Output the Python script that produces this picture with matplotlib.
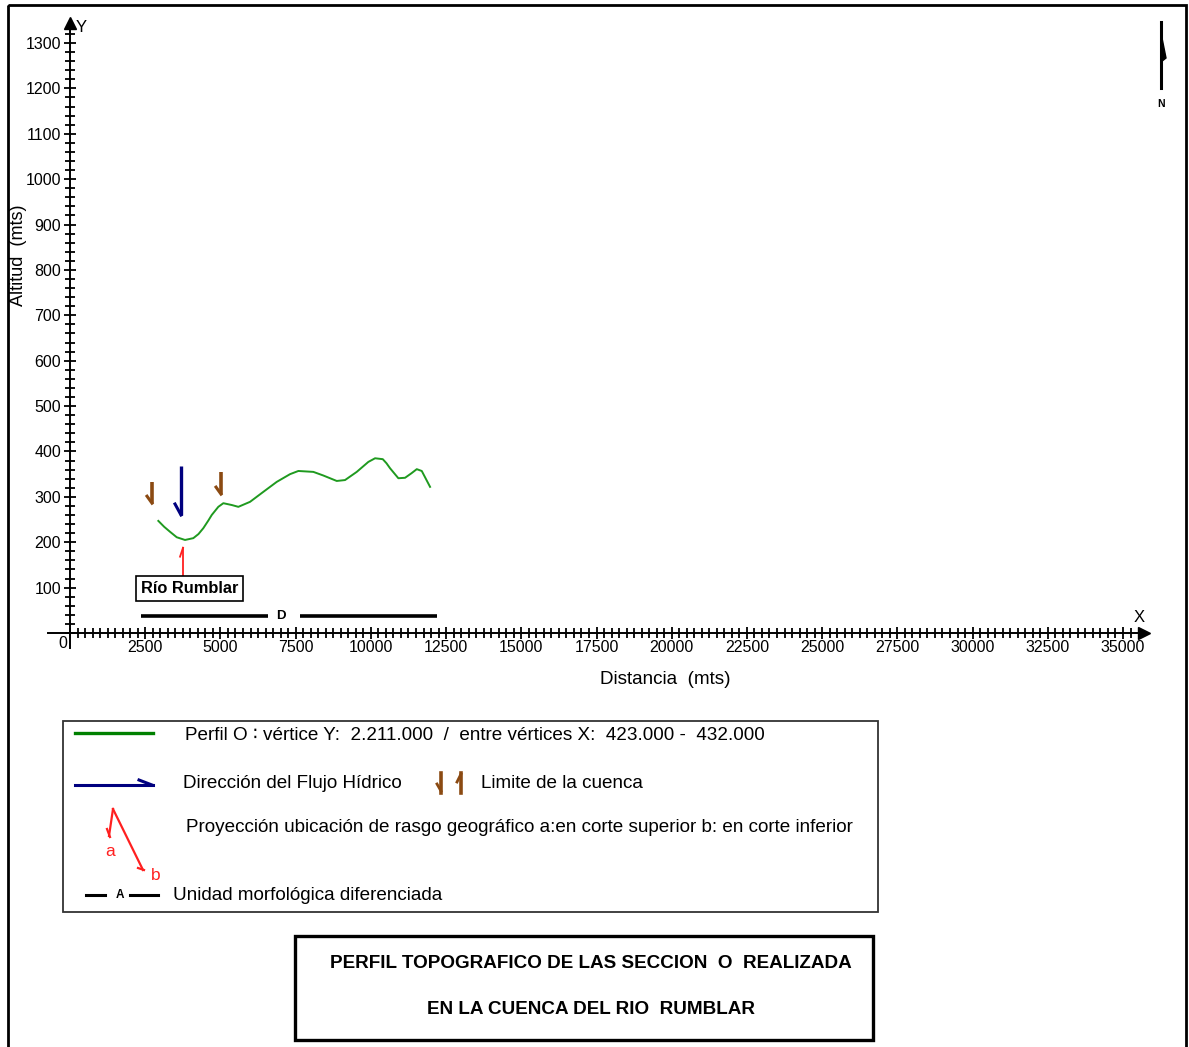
import matplotlib
matplotlib.use("Agg")
import matplotlib.pyplot as plt
import matplotlib.transforms as mtransforms
from matplotlib import font_manager
from matplotlib.patches import Rectangle, Polygon
import numpy as np

# ---------------------------------------------------------------- data
# Perfil O: distancia (m) / altitud (m)
dist_m = [2936, 3130, 3325, 3547, 3823, 4099, 4270, 4432, 4600, 4711, 4930,
          5097, 5376, 5595, 5984, 6426, 6872, 7314, 7590, 8089, 8421, 8866,
          9142, 9531, 9917, 10140, 10396, 10520, 10638, 10914, 11137, 11350,
          11526, 11692, 11968]
alt_m = [247, 234, 223, 211, 205, 209, 218, 231, 248, 260, 278,
         286, 282, 278, 289, 311, 333, 350, 357, 355, 347, 335,
         337, 355, 377, 385, 383, 374, 363, 341, 342, 352,
         361, 357, 322]

# límites de la cuenca (x, altitud superior, altitud inferior)
limite_x = [2726, 5020]
limite_top = [333, 355]
limite_bot = [286, 306]

# dirección del flujo hídrico
flujo_x = 3690
flujo_top, flujo_bot = 368, 260

# proyección del río (flecha roja) y su etiqueta
rio_x = 3757
rio_bot, rio_top = 126, 188
rio_label = "Río Rumblar"
rio_label_xy = (3973, 98)

# unidad morfológica D
unidad_name = "D"
unidad_y = 37.5
unidad_left = (2360, 6582)
unidad_right = (7646, 12201)
unidad_label_x = 7015

x_major = np.arange(2500, 35001, 2500)
x_minor = np.arange(0, 35251, 250)
y_major = np.arange(100, 1301, 100)
y_minor = np.arange(0, 1321, 20)

# ---------------------------------------------------------------- fonts
available = {f.name for f in font_manager.fontManager.ttflist}
narrow = "Liberation Sans Narrow" if "Liberation Sans Narrow" in available else "Liberation Sans"
plt.rcParams["font.family"] = ["Liberation Sans", "DejaVu Sans"]
NARROW = [narrow, "DejaVu Sans"]

GREEN = "#1f9a1f"
NAVY = "#00007f"
BROWN = "#8b4a12"
RED = "#ff2020"
FS = 13.6

W, H = 1189, 1047
fig = plt.figure(figsize=(W / 100, H / 100), dpi=100)

# overlay in pixel units for frame, legend and title block
ov = fig.add_axes([0, 0, 1, 1])
ov.set_xlim(0, W)
ov.set_ylim(H, 0)
ov.axis("off")

# ---------------------------------------------------------------- main axes
px_l, px_r, px_t, px_b = 20, 1160, 15, 690
ax = fig.add_axes([px_l / W, (H - px_b) / H, (px_r - px_l) / W, (px_b - px_t) / H])
ax.patch.set_alpha(0)
x0px, x35px = 70, 1123
y0px, y13px = 633, 43
xs = 35000 / (x35px - x0px)
ys = 1300 / (y0px - y13px)
ax.set_xlim((px_l - x0px) * xs, (px_r - x0px) * xs)
ax.set_ylim((y0px - px_b) * ys, (y0px - px_t) * ys)

for s in ["top", "right"]:
    ax.spines[s].set_visible(False)
ax.spines["left"].set_position(("data", 0))
ax.spines["bottom"].set_position(("data", 0))
ax.spines["left"].set_bounds(-33, 1335)
ax.spines["bottom"].set_bounds(-730, 35600)
for s in ["left", "bottom"]:
    ax.spines[s].set_linewidth(1.4)

ax.set_xticks(x_major)
ax.set_xticks(x_minor, minor=True)
ax.set_yticks(y_major)
ax.set_yticks(y_minor, minor=True)
ax.set_xticklabels([str(v) for v in x_major])
ax.set_yticklabels([str(v) for v in y_major])
ax.tick_params(which="both", direction="inout", width=1.3, colors="black",
               labelsize=11.5, pad=1)
ax.tick_params(axis="y", pad=2.5)
ax.tick_params(which="major", length=8)
ax.tick_params(which="minor", length=7)
for lab in ax.get_xticklabels() + ax.get_yticklabels():
    lab.set_family(NARROW)

# axis arrows
ax.plot([0], [1345], marker="^", color="black", markersize=9, clip_on=False)
ax.plot([35700], [0], marker=">", color="black", markersize=9, clip_on=False)

# profile
ax.plot(dist_m, alt_m, color=GREEN, lw=1.4, zorder=3, solid_joinstyle="round")


def anchored(x, y):
    """Transform anchored at data point (x, y), offsets in pixels."""
    return mtransforms.Affine2D() + mtransforms.ScaledTranslation(x, y, ax.transData)


# basin limits
for lx, lt, lb in zip(limite_x, limite_top, limite_bot):
    ax.plot([lx, lx], [lb, lt], color=BROWN, lw=2.6, solid_capstyle="butt")
    ax.plot([-5, 0], [7, 0], color=BROWN, lw=2.2, transform=anchored(lx, lb))

# water flow
ax.plot([flujo_x, flujo_x], [flujo_bot, flujo_top], color=NAVY, lw=2.4,
        solid_capstyle="butt")
ax.plot([-6, 0], [11, 0], color=NAVY, lw=2.2, transform=anchored(flujo_x, flujo_bot))

# river projection
ax.plot([rio_x, rio_x], [rio_bot, rio_top], color=RED, lw=1.3)
ax.plot([-3, 0], [-9, 0], color=RED, lw=1.3, transform=anchored(rio_x, rio_top))
ax.text(*rio_label_xy, rio_label, ha="center", va="center", fontsize=11.8,
        fontweight="bold", family=NARROW, zorder=4,
        bbox=dict(boxstyle="square,pad=0.3", fc="white", ec="black", lw=1.2))

# morphological unit D
ax.plot(unidad_left, [unidad_y, unidad_y], color="black", lw=2.6, solid_capstyle="butt")
ax.plot(unidad_right, [unidad_y, unidad_y], color="black", lw=2.6, solid_capstyle="butt")
ax.text(unidad_label_x, unidad_y, unidad_name, ha="center", va="center",
        fontsize=9.5, fontweight="bold")

# ---------------------------------------------------------------- overlay text
ov.add_patch(Rectangle((8, 5), 1178, 1060, fill=False, ec="black", lw=2))
ov.text(63, 644, "0", ha="center", va="center", fontsize=11.5, family=NARROW)
ov.text(81, 28, "Y", ha="center", va="center", fontsize=12)
ov.text(1139, 618, "X", ha="center", va="center", fontsize=12)
ov.text(19, 255, "Altitud  (mts)", rotation=90, ha="center", va="center", fontsize=13)
ov.text(665, 680, "Distancia  (mts)", ha="center", va="center", fontsize=FS)

# north arrow
ov.plot([1161, 1161], [22, 88], color="black", lw=2.2)
ov.add_patch(Polygon([(1161, 33), (1166, 58), (1161, 62)], closed=True, fc="black", ec="black"))
ov.text(1161, 104, "N", ha="center", va="center", fontsize=7.5, fontweight="bold")

# legend block
ov.add_patch(Rectangle((63, 721), 815, 191, fill=False, ec="#333333", lw=1.3))
ov.plot([75, 153], [733, 733], color="#008000", lw=2.4)
ov.text(185, 736, "Perfil O \u2236 vértice Y:  2.211.000  /  entre vértices X:  423.000 -  432.000",
        ha="left", va="center", fontsize=FS)
ov.plot([75, 153], [785, 785], color=NAVY, lw=2.2)
ov.plot([139, 152], [780, 785], color=NAVY, lw=2.2)
ov.text(183, 784, "Dirección del Flujo Hídrico", ha="left", va="center", fontsize=FS)
ov.plot([441, 441], [773, 793], color=BROWN, lw=2.6)
ov.plot([437, 441], [784, 791], color=BROWN, lw=2.0)
ov.plot([461, 461], [773, 793], color=BROWN, lw=2.6)
ov.plot([457, 461], [782, 774], color=BROWN, lw=2.0)
ov.text(481, 784, "Limite de la cuenca", ha="left", va="center", fontsize=FS)
ov.plot([113, 109], [809, 836], color=RED, lw=1.6)
ov.plot([107, 110], [829, 837], color=RED, lw=1.6)
ov.plot([113, 143], [809, 870], color=RED, lw=1.6)
ov.plot([138, 144], [868, 870], color=RED, lw=1.6)
ov.text(110, 851, "a", color=RED, ha="center", va="center", fontsize=12.5)
ov.text(156, 876, "b", color=RED, ha="center", va="center", fontsize=12.5)
ov.text(186, 828, "Proyección ubicación de rasgo geográfico a:en corte superior b: en corte inferior",
        ha="left", va="center", fontsize=FS)
ov.plot([86, 105], [895, 895], color="black", lw=2.2)
ov.text(120, 895, "A", ha="center", va="center", fontsize=8.5, fontweight="bold")
ov.plot([130, 158], [895, 895], color="black", lw=2.2)
ov.text(173, 895, "Unidad morfológica diferenciada", ha="left", va="center", fontsize=FS)

# title block
ov.add_patch(Rectangle((295, 936), 578, 104, fill=False, ec="black", lw=2.4))
ov.text(591, 963, "PERFIL TOPOGRAFICO DE LAS SECCION  O  REALIZADA", ha="center",
        va="center", fontsize=13.6, fontweight="bold", family=NARROW)
ov.text(591, 1009, "EN LA CUENCA DEL RIO  RUMBLAR", ha="center", va="center",
        fontsize=13.6, fontweight="bold", family=NARROW)

fig.savefig("out.png", dpi=100)
